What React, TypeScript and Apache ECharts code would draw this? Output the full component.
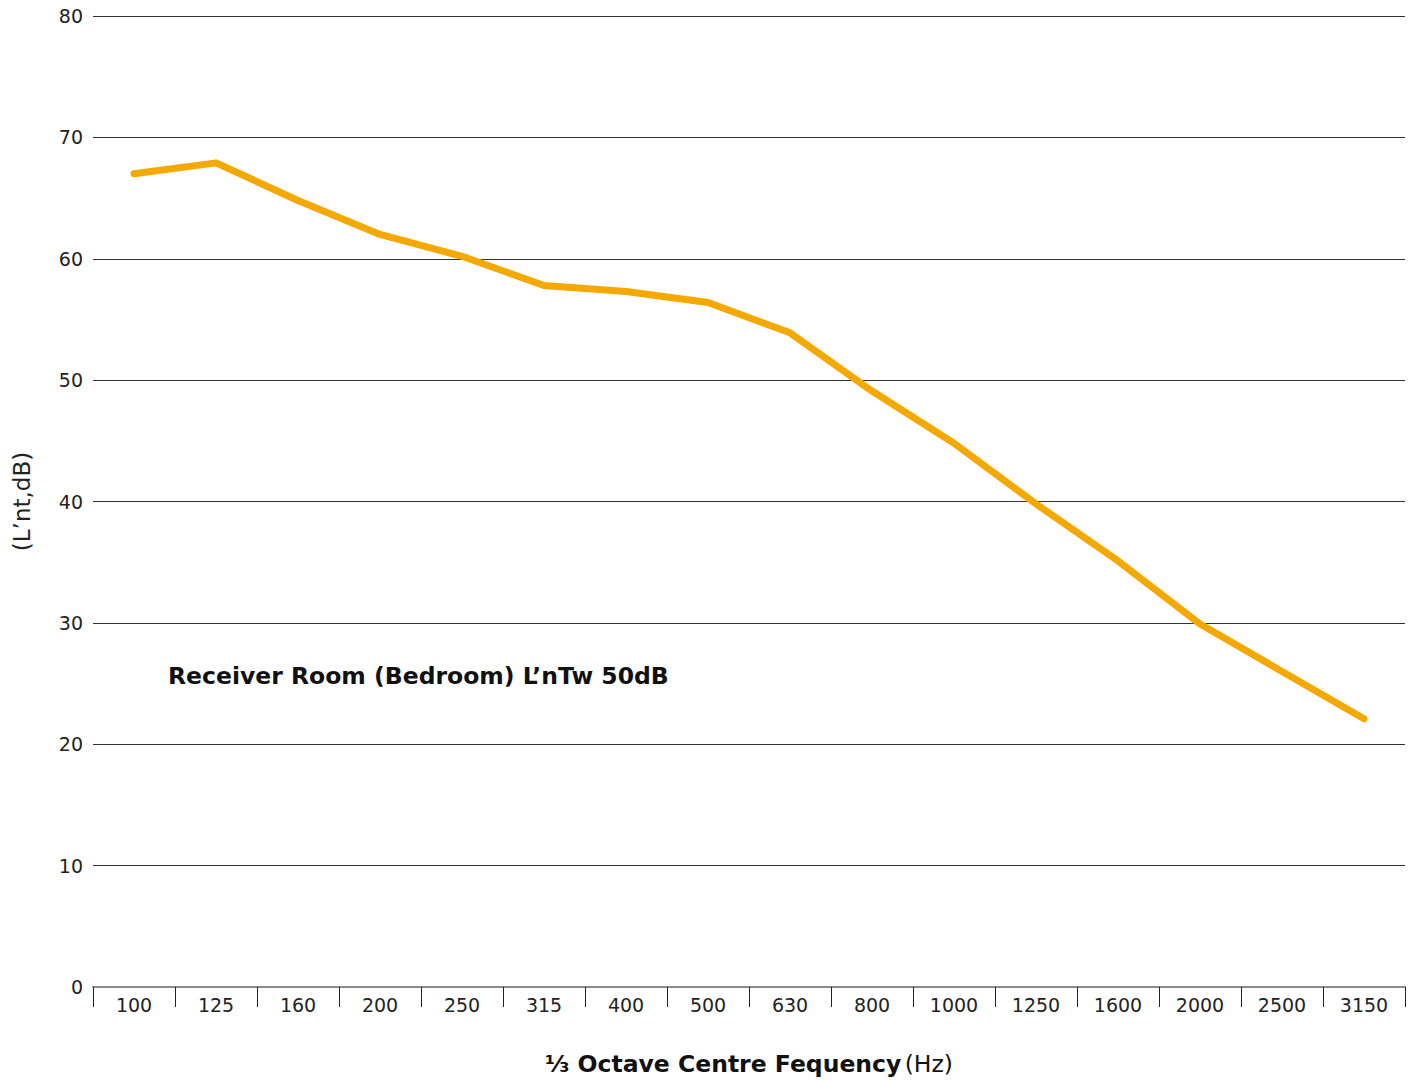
import React, { useEffect, useRef } from "react";
import * as echarts from "echarts";

const categories = ["100", "125", "160", "200", "250", "315", "400", "500", "630", "800", "1000", "1250", "1600", "2000", "2500", "3150"];
const values = [67.0, 67.9, 64.8, 62.0, 60.2, 57.8, 57.3, 56.4, 53.9, 49.1, 44.8, 39.8, 35.1, 29.9, 26.0, 22.1];
const yAxisTitle = "(L’nt,dB)";
const xAxisTitleBold = "⅓ Octave Centre Fequency";
const xAxisTitleUnit = "(Hz)";
const annotation = "Receiver Room (Bedroom) L’nTw 50dB";

const FONT = "'DejaVu Sans', 'Open Sans', sans-serif";

export default function App() {
  const ref = useRef<HTMLDivElement>(null);
  useEffect(() => {
    if (!ref.current) return;
    const chart = echarts.init(ref.current, undefined, { renderer: "svg" });
    chart.setOption({
      animation: false,
      backgroundColor: "#ffffff",
      grid: { left: 93, right: 13, top: 16, bottom: 80, containLabel: false },
      xAxis: {
        type: "category",
        data: categories,
        boundaryGap: true,
        axisLine: { show: true, lineStyle: { color: "#8a8a8a", width: 2 } },
        axisTick: { show: true, length: 20, lineStyle: { color: "#222", width: 1 } },
        axisLabel: { color: "#222", fontSize: 19, fontFamily: FONT, margin: 8 },
        name: `{b|${xAxisTitleBold}} {n|${xAxisTitleUnit}}`,
        nameLocation: "middle",
        nameGap: 65,
        nameTextStyle: {
          rich: {
            b: { fontSize: 23.5, fontWeight: "bold", color: "#111", fontFamily: FONT },
            n: { fontSize: 23.5, fontWeight: "normal", color: "#111", fontFamily: FONT },
          },
        },
      },
      yAxis: {
        type: "value",
        min: 0,
        max: 80,
        interval: 10,
        axisLine: { show: false },
        axisTick: { show: false },
        axisLabel: { color: "#222", fontSize: 19, fontFamily: FONT, margin: 10 },
        splitLine: { show: true, lineStyle: { color: "#333", width: 1 } },
        name: yAxisTitle,
        nameLocation: "middle",
        nameGap: 60,
        nameRotate: 90,
        nameTextStyle: { fontSize: 23, color: "#222", fontFamily: FONT },
      },
      series: [
        {
          type: "line",
          data: values,
          showSymbol: false,
          symbol: "none",
          lineStyle: { color: "#F5A800", width: 7, cap: "round", join: "round" },
          itemStyle: { color: "#F5A800" },
        },
      ],
      graphic: [
        {
          type: "text",
          left: 168,
          top: 664,
          style: {
            text: annotation,
            fontSize: 23.5,
            fontWeight: "bold",
            fill: "#111",
            fontFamily: FONT,
          },
        },
      ],
    });
    return () => chart.dispose();
  }, []);
  return (
    <div
      ref={ref}
      style={{ position: "fixed", left: 0, top: 0, width: 1418, height: 1081 }}
    />
  );
}
